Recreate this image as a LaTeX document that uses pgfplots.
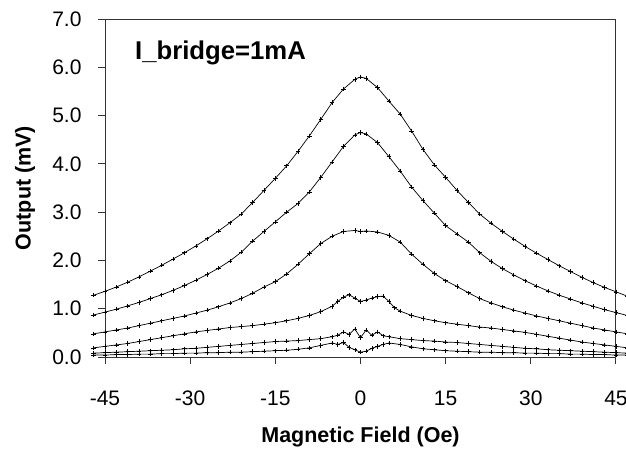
\documentclass[border=0pt]{standalone}
\usepackage{fontspec}
\setmainfont{Liberation Sans}
\usepackage{pgfplots}
\pgfplotsset{compat=1.18}
\pgfplotsset{dat/.style={black, line width=0.7pt, mark=+, mark size=2.2pt, mark options={solid, line width=0.6pt}}}
\begin{document}
\begin{tikzpicture}
\useasboundingbox (0,0) rectangle (626pt,450pt);
\begin{axis}[
  at={(105pt,93pt)}, anchor=south west,
  scale only axis, width=511pt, height=338pt,
  xmin=-45, xmax=45, ymin=0, ymax=7,
  clip=false,
  axis line style={black!80, line width=1pt},
  xtick={-45,-30,-15,0,15,30,45},
  ytick={0,1,2,3,4,5,6,7},
  xtick pos=left, ytick pos=left,
  tick align=outside,
  major tick length=7pt,
  major tick style={draw=black!80, line width=1pt},
  /pgf/number format/assume math mode=true,
  ticklabel style={font=\fontsize{21}{24}\selectfont},
  xticklabel style={anchor=center, yshift=-34pt},
  yticklabel style={/pgf/number format/fixed, /pgf/number format/fixed zerofill, /pgf/number format/precision=1, anchor=east, xshift=-13pt},
  xlabel={\textbf{Magnetic Field (Oe)}},
  ylabel={\textbf{Output (mV)}},
  every axis x label/.style={at={(rel axis cs:0.5,0)}, anchor=center, yshift=-80pt, font=\fontsize{21.5}{24}\selectfont},
  every axis y label/.style={at={(rel axis cs:-0.1566,0.5)}, anchor=center, rotate=90, font=\fontsize{21.5}{24}\selectfont},
]
\pgfplotsinvokeforeach{-45,-30,-15,0,15,30,45}{\draw[black!80, line width=1pt] (axis cs:#1,0) -- ++(0pt,-7pt);}
% curve 1
\addplot[dat] coordinates {
(-47,1.28) (-45,1.36) (-43,1.45) (-41,1.55) (-39,1.66) (-37,1.78) (-35,1.90) (-33,2.03) (-31,2.16) (-29,2.30)
(-27,2.45) (-25,2.61) (-23,2.78) (-21,2.96) (-19,3.20) (-17,3.45) (-15,3.70) (-13,3.96) (-11,4.26) (-9,4.58)
(-7,4.92) (-5,5.27) (-3,5.55) (-1,5.75) (0,5.80) (1,5.77) (3,5.58) (5,5.30) (7,5.03) (9,4.68)
(11,4.30) (13,3.98) (15,3.72) (17,3.45) (19,3.20) (21,2.96) (23,2.77) (25,2.60) (27,2.44) (29,2.29)
(31,2.15) (33,2.02) (35,1.89) (37,1.77) (39,1.65) (41,1.54) (43,1.44) (45,1.35) (47,1.26)};
% curve 2
\addplot[dat] coordinates {
(-47,0.87) (-45,0.93) (-43,0.99) (-41,1.06) (-39,1.13) (-37,1.21) (-35,1.29) (-33,1.38) (-31,1.48) (-29,1.59)
(-27,1.71) (-25,1.84) (-23,1.99) (-21,2.17) (-19,2.40) (-17,2.60) (-15,2.80) (-13,3.00) (-11,3.18) (-9,3.42)
(-7,3.72) (-5,4.04) (-3,4.36) (-1,4.60) (0,4.65) (1,4.62) (3,4.44) (5,4.15) (7,3.85) (9,3.52)
(11,3.24) (13,2.98) (15,2.72) (17,2.55) (19,2.38) (21,2.16) (23,1.98) (25,1.83) (27,1.70) (29,1.58)
(31,1.47) (33,1.37) (35,1.28) (37,1.20) (39,1.12) (41,1.05) (43,0.98) (45,0.92) (47,0.86)};
% curve 3
\addplot[dat] coordinates {
(-47,0.48) (-45,0.52) (-43,0.56) (-41,0.60) (-39,0.65) (-37,0.70) (-35,0.75) (-33,0.80) (-31,0.85) (-29,0.91)
(-27,0.97) (-25,1.04) (-23,1.12) (-21,1.21) (-19,1.32) (-17,1.45) (-15,1.56) (-13,1.72) (-11,1.92) (-9,2.14)
(-7,2.35) (-5,2.50) (-3,2.60) (-1,2.62) (0,2.60) (1,2.61) (3,2.59) (5,2.52) (7,2.38) (9,2.13)
(11,1.92) (13,1.73) (15,1.58) (17,1.46) (19,1.33) (21,1.21) (23,1.12) (25,1.04) (27,0.97) (29,0.91)
(31,0.85) (33,0.80) (35,0.75) (37,0.70) (39,0.65) (41,0.60) (43,0.56) (45,0.52) (47,0.48)};
% curve 4
\addplot[dat] coordinates {
(-47,0.19) (-45,0.22) (-43,0.25) (-41,0.28) (-39,0.32) (-37,0.36) (-35,0.40) (-33,0.44) (-31,0.48) (-29,0.52)
(-27,0.55) (-25,0.58) (-23,0.61) (-21,0.63) (-19,0.65) (-17,0.68) (-15,0.71) (-13,0.75) (-11,0.80) (-9,0.86)
(-7,0.94) (-5,1.05) (-4,1.15) (-3,1.24) (-2,1.29) (-1,1.22) (0,1.15) (1,1.18) (2,1.22) (3,1.25) (4,1.26)
(5,1.15) (6,1.02) (7,0.95) (9,0.86) (11,0.80) (13,0.75) (15,0.71) (17,0.68) (19,0.65) (21,0.62)
(23,0.60) (25,0.57) (27,0.54) (29,0.51) (31,0.47) (33,0.43) (35,0.39) (37,0.35) (39,0.31) (41,0.28)
(43,0.25) (45,0.22) (47,0.19)};
% curve 5
\addplot[dat] coordinates {
(-47,0.08) (-45,0.09) (-43,0.10) (-41,0.11) (-39,0.12) (-37,0.13) (-35,0.14) (-33,0.15) (-31,0.17) (-29,0.18)
(-27,0.20) (-25,0.22) (-23,0.24) (-21,0.26) (-19,0.28) (-17,0.30) (-15,0.32) (-13,0.33) (-11,0.34) (-9,0.36)
(-7,0.38) (-5,0.42) (-4,0.45) (-3,0.52) (-2,0.47) (-1,0.58) (0,0.40) (1,0.56) (2,0.45) (3,0.52) (4,0.44)
(5,0.42) (7,0.38) (9,0.36) (11,0.34) (13,0.33) (15,0.31) (17,0.30) (19,0.28) (21,0.26) (23,0.24)
(25,0.22) (27,0.20) (29,0.18) (31,0.17) (33,0.15) (35,0.14) (37,0.13) (39,0.12) (41,0.11) (43,0.10)
(45,0.09) (47,0.08)};
% curve 6
\addplot[dat] coordinates {
(-47,0.04) (-45,0.04) (-43,0.05) (-41,0.05) (-39,0.06) (-37,0.06) (-35,0.07) (-33,0.07) (-31,0.08) (-29,0.08)
(-27,0.09) (-25,0.09) (-23,0.10) (-21,0.10) (-19,0.11) (-17,0.12) (-15,0.13) (-13,0.14) (-11,0.16) (-9,0.19)
(-7,0.24) (-5,0.29) (-4,0.26) (-3,0.30) (-2,0.20) (-1,0.15) (0,0.10) (1,0.12) (2,0.18) (3,0.22) (4,0.26)
(5,0.29) (7,0.26) (9,0.21) (11,0.17) (13,0.15) (15,0.13) (17,0.12) (19,0.11) (21,0.10) (23,0.10)
(25,0.09) (27,0.09) (29,0.08) (31,0.08) (33,0.07) (35,0.07) (37,0.06) (39,0.06) (41,0.05) (43,0.05)
(45,0.04) (47,0.04)};
\node[anchor=west, font=\fontsize{25.7}{28}\selectfont\bfseries] at (axis cs:-40.3,6.3) {I\_bridge=1mA};
\end{axis}
\end{tikzpicture}
\end{document}
